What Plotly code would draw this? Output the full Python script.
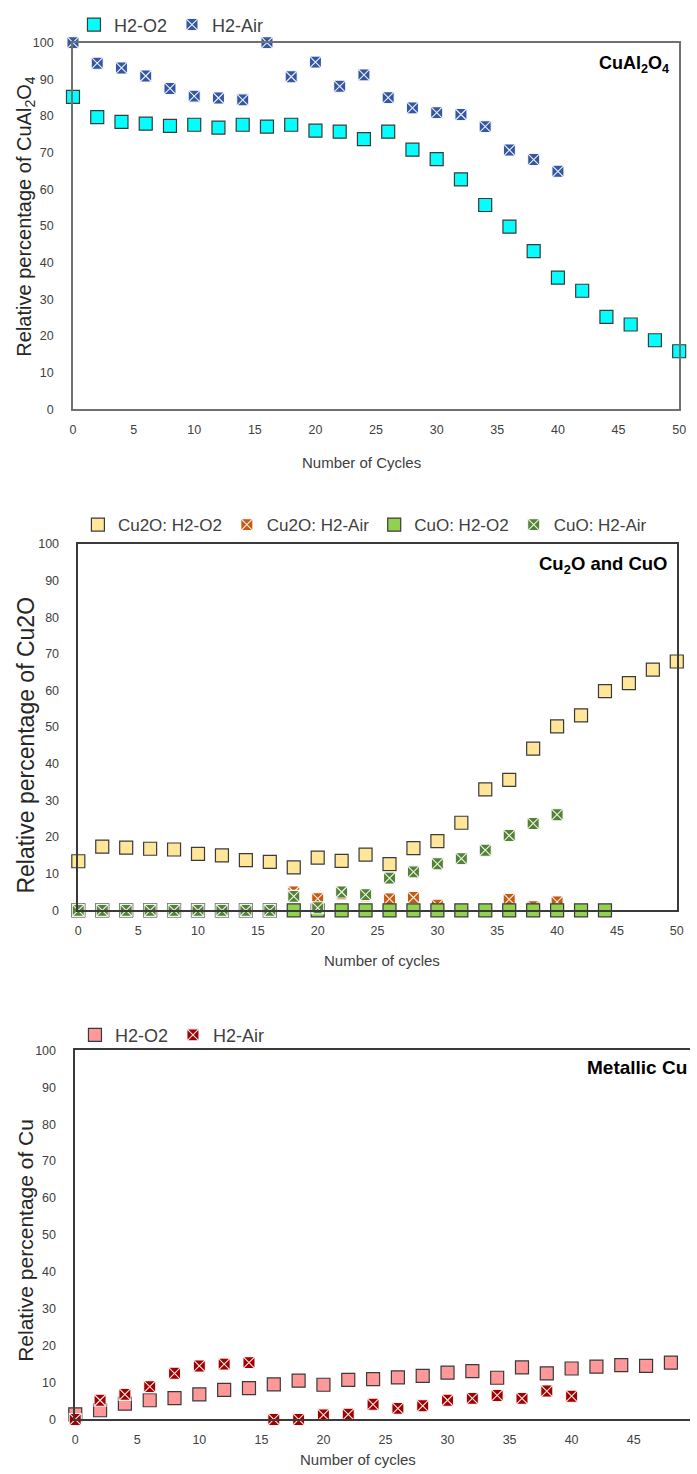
import plotly.graph_objects as go

W, H = 697, 1474

# ---------------- data ----------------
cycles_o2 = list(range(0, 51, 2))
cycles_air = list(range(0, 41, 2))
cycles_cuo_o2 = list(range(0, 45, 2))

cual_h2o2 = [85.2, 79.7, 78.4, 77.9, 77.3, 77.6, 76.8, 77.6, 77.1, 77.6,
             76.0, 75.7, 73.7, 75.7, 70.8, 68.2, 62.7, 55.7, 49.8, 43.1,
             35.9, 32.3, 25.2, 23.1, 18.8, 15.8]
cual_h2air = [100, 94.4, 93.1, 90.9, 87.5, 85.4, 84.9, 84.4, 100, 90.7,
              94.7, 88.1, 91.2, 85.0, 82.2, 80.9, 80.4, 77.1, 70.7, 68.1,
              64.9]

cu2o_h2o2 = [13.4, 17.4, 17.1, 16.8, 16.6, 15.4, 15.0, 13.7, 13.2, 11.7,
             14.4, 13.5, 15.2, 12.6, 17.0, 18.9, 23.9, 33.0, 35.6, 44.1,
             50.2, 53.2, 59.8, 62.0, 65.7, 67.9]
cu2o_h2air = [0, 0, 0, 0, 0, 0, 0, 0, 0, 5.0,
              3.2, 4.5, 4.0, 3.1, 3.5, 1.4, 0, 0, 3.0, 1.0,
              2.3]
cuo_h2o2 = [0] * 23
cuo_h2air = [0, 0, 0, 0, 0, 0, 0, 0, 0, 3.8,
             0.7, 5.0, 4.3, 8.8, 10.5, 12.7, 14.1, 16.4, 20.4, 23.7,
             26.1]

cu_h2o2 = [1.4, 2.5, 4.3, 5.2, 5.8, 6.8, 8.0, 8.5, 9.5, 10.5,
           9.4, 10.7, 10.9, 11.4, 11.8, 12.7, 13.1, 11.3, 14.1, 12.5,
           13.8, 14.3, 14.7, 14.5, 15.4, 15.0]
cu_h2air = [0, 5.2, 6.8, 8.9, 12.5, 14.5, 15.0, 15.4, 0, 0,
            1.25, 1.4, 4.1, 3.0, 3.7, 5.2, 5.7, 6.5, 5.7, 7.7,
            6.3]

y_ticks = list(range(0, 101, 10))
x_ticks = list(range(0, 51, 5))

FONT = "Liberation Sans, Arial, sans-serif"
TXT = "#404040"

def px_x(p):
    return p / W

def px_y(p):
    return 1 - p / H

fig = go.Figure()

def sq(x, y, color, name, xa, ya, legend, size=13):
    fig.add_trace(go.Scatter(
        x=x, y=y, mode="markers", name=name, xaxis=xa, yaxis=ya, legend=legend,
        cliponaxis=False,
        marker=dict(symbol="square", size=size, color=color,
                    line=dict(color="#3a3a3a", width=1.2))))

def xm(x, y, color, name, xa, ya, legend, size=12):
    fig.add_trace(go.Scatter(
        x=x, y=y, mode="markers", name=name, xaxis=xa, yaxis=ya, legend=legend,
        cliponaxis=False,
        marker=dict(symbol="square-x", size=size, color=color,
                    line=dict(color="rgba(255,255,255,0.9)", width=1.1))))

# panel 1
sq(cycles_o2, cual_h2o2, "#00FFFF", "H2-O2", "x", "y", "legend")
xm(cycles_air, cual_h2air, "#3457A3", "H2-Air", "x", "y", "legend")
# panel 2
sq(cycles_o2, cu2o_h2o2, "#FFE699", "Cu2O: H2-O2", "x2", "y2", "legend2")
xm(cycles_air, cu2o_h2air, "#C55A11", "Cu2O: H2-Air", "x2", "y2", "legend2")
sq(cycles_cuo_o2, cuo_h2o2, "#92D050", "CuO: H2-O2", "x2", "y2", "legend2")
xm(cycles_air, cuo_h2air, "#548235", "CuO: H2-Air", "x2", "y2", "legend2")
# panel 3
sq(cycles_o2, cu_h2o2, "#FF9999", "H2-O2", "x3", "y3", "legend3")
xm(cycles_air, cu_h2air, "#A00000", "H2-Air", "x3", "y3", "legend3")

panels = [
    # x0px, x1px, ytop, ybot, xrange_max, linecolor, ymirror
    (71, 686, 36, 406, 50, "#707070", True),
    (76.4, 683.6, 542, 912, 50, "#3a3a3a", True),
    (73.3, 697, 1053.3, 1426, (697 - 73.3) / 12.59, "#3a3a3a", False),
]

layout = dict(
    width=W, height=H, margin=dict(l=0, r=0, t=0, b=0),
    paper_bgcolor="white", plot_bgcolor="white",
    font=dict(family=FONT, color=TXT),
    showlegend=True,
)
for i, (x0, x1, yt, yb, xmax, lc, ymir) in enumerate(panels, start=1):
    sfx = "" if i == 1 else str(i)
    layout["xaxis" + sfx] = dict(
        domain=[px_x(x0), px_x(x1)], anchor="y" + sfx, range=[0, xmax],
        tickvals=x_ticks, showgrid=False, zeroline=False, showline=True,
        linecolor=lc, linewidth=1.5, mirror=True, ticks="",
        ticklabelstandoff=8, tickfont=dict(size=12.5, color=TXT, family=FONT))
    layout["yaxis" + sfx] = dict(
        domain=[px_y(yb), px_y(yt)], anchor="x" + sfx, range=[0, 100],
        tickvals=y_ticks, showgrid=False, zeroline=False, showline=True,
        linecolor=lc, linewidth=1.5, mirror=ymir, ticks="",
        ticklabelstandoff=15, tickfont=dict(size=12.5, color=TXT, family=FONT))

leg_common = dict(orientation="h", xanchor="left", yanchor="middle",
                  bgcolor="rgba(0,0,0,0)", borderwidth=0,
                  font=dict(size=18, color=TXT, family=FONT),
                  itemwidth=30, tracegroupgap=0)
layout["legend"] = dict(x=px_x(72), y=px_y(18), **leg_common)
layout["legend2"] = dict(x=px_x(76), y=px_y(523), **leg_common)
layout["legend3"] = dict(x=px_x(73), y=px_y(1038), **leg_common)
layout["legend2"]["font"] = dict(size=17, color=TXT, family=FONT)

fig.update_layout(**layout)

ann = []
# panel labels
ann.append(dict(text="<b>CuAl<sub>2</sub>O<sub>4</sub></b>", x=px_x(678), y=px_y(58),
                xanchor="right", yanchor="middle", font=dict(size=18, color="black")))
ann.append(dict(text="<b>Cu<sub>2</sub>O and CuO</b>", x=px_x(677), y=px_y(563),
                xanchor="right", yanchor="middle", font=dict(size=18.5, color="black")))
ann.append(dict(text="<b>Metallic Cu</b>", x=px_x(696), y=px_y(1071),
                xanchor="right", yanchor="middle", font=dict(size=19, color="black")))
# x titles
ann.append(dict(text="Number of Cycles", x=px_x(364), y=px_y(460),
                xanchor="center", yanchor="middle", font=dict(size=15, color=TXT)))
ann.append(dict(text="Number of cycles", x=px_x(385), y=px_y(963),
                xanchor="center", yanchor="middle", font=dict(size=15, color=TXT)))
ann.append(dict(text="Number of cycles", x=px_x(360), y=px_y(1466),
                xanchor="center", yanchor="middle", font=dict(size=15, color=TXT)))
# y titles
ann.append(dict(text="Relative percentage of CuAl<sub>2</sub>O<sub>4</sub>", x=px_x(23), y=px_y(212),
                xanchor="center", yanchor="middle", textangle=-90, font=dict(size=20, color="#262626")))
ann.append(dict(text="Relative percentage of Cu2O", x=px_x(23), y=px_y(745),
                xanchor="center", yanchor="middle", textangle=-90, font=dict(size=23, color="#262626")))
ann.append(dict(text="Relative percentage of Cu", x=px_x(23), y=px_y(1245),
                xanchor="center", yanchor="middle", textangle=-90, font=dict(size=21, color="#262626")))
for a in ann:
    a.update(xref="paper", yref="paper", showarrow=False)
fig.update_layout(annotations=ann)

fig.write_html(
    "out.html",
    config={"displayModeBar": False},
    post_script="document.body.style.margin='0';document.body.style.overflow='hidden';",
)
